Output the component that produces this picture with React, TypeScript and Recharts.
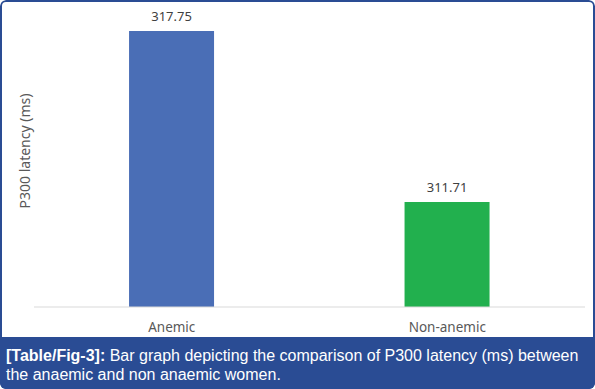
import { Bar, BarChart, Cell, LabelList, XAxis, YAxis } from "recharts";

const CATEGORIES = ["Anemic", "Non-anemic"];
const LATENCY = [317.75, 311.71];
const COLORS = ["#4A6EB6", "#22B04E"];
const Y_DOMAIN = [308, 318];

const chartData = CATEGORIES.map((name, i) => ({ name, latency: LATENCY[i] }));

function YLabel() {
  return (
    <text
      x={24}
      y={151}
      transform="rotate(-90 24 151)"
      textAnchor="middle"
      dominantBaseline="central"
      fill="#595959"
      fontSize={14}
      fontFamily="'Noto Sans', sans-serif"
    >
      P300 latency (ms)
    </text>
  );
}

export default function App() {
  return (
    <div
      style={{
        position: "absolute",
        left: 0,
        top: 0,
        width: 595,
        height: 389,
        background: "#fff",
        overflow: "hidden",
        borderRadius: 6,
      }}
    >
      <div style={{ position: "absolute", left: 0, top: 0 }}>
        <BarChart
          width={595}
          height={337}
          data={chartData}
          margin={{ top: 24, right: 10, bottom: 0, left: 0 }}
          barCategoryGap="34.5%"
        >
          <XAxis
            dataKey="name"
            height={30}
            axisLine={{ stroke: "#d9d9d9" }}
            tickLine={false}
            tickSize={6}
            tickMargin={9}
            tick={{ fill: "#595959", fontSize: 13.5, fontFamily: "'Noto Sans', sans-serif" }}
          />
          <YAxis
            width={34}
            domain={Y_DOMAIN}
            allowDataOverflow
            tick={false}
            axisLine={false}
            tickLine={false}
            label={<YLabel />}
          />
          <Bar dataKey="latency" isAnimationActive={false}>
            {chartData.map((entry, index) => (
              <Cell key={entry.name} fill={COLORS[index % COLORS.length]} />
            ))}
            <LabelList
              dataKey="latency"
              position="top"
              offset={10}
              fill="#404040"
              fontSize={13}
              fontFamily="'Noto Sans', sans-serif"
            />
          </Bar>
        </BarChart>
      </div>

      <div
        style={{
          position: "absolute",
          left: 0,
          top: 337,
          width: 595,
          height: 52,
          background: "#2A4C94",
          color: "#fff",
          fontFamily: "'Liberation Sans Narrow', 'Liberation Sans', sans-serif",
          fontSize: 16,
          lineHeight: "19px",
          padding: "9px 6px 0 6px",
          boxSizing: "border-box",
          whiteSpace: "nowrap",
        }}
      >
        <div>
          <b>[Table/Fig-3]:</b> Bar graph depicting the comparison of P300 latency (ms) between
        </div>
        <div>the anaemic and non anaemic women.</div>
      </div>

      <div
        style={{
          position: "absolute",
          left: 0,
          top: 0,
          width: 595,
          height: 389,
          border: "2px solid #2A4C94",
          borderRadius: 6,
          boxSizing: "border-box",
          pointerEvents: "none",
        }}
      />
    </div>
  );
}
